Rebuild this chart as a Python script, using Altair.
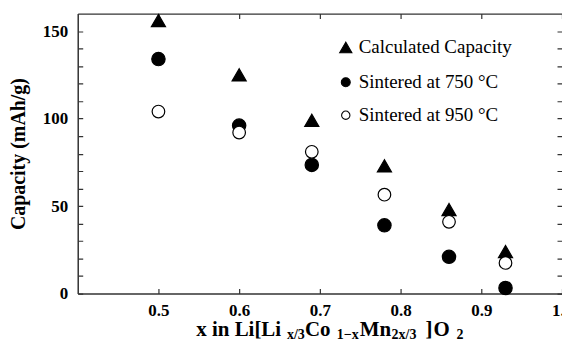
import altair as alt
import pandas as pd

# Composition x of Li[Li_x/3 Co_1-x Mn_2x/3]O2 and discharge capacities (mAh/g)
x_values = [0.50, 0.60, 0.69, 0.78, 0.86, 0.93]
calculated = [156, 125, 99, 73, 48, 24]
sintered_750 = [134, 96, 73.5, 39, 21, 3.2]
sintered_950 = [104, 92, 81, 56.5, 41, 17.5]

series_names = ["Calculated Capacity", "Sintered at 750 °C", "Sintered at 950 °C"]
x_ticks = [0.5, 0.6, 0.7, 0.8, 0.9, 1.0]
y_ticks = list(range(0, 161, 10))
x_domain = [0.4, 1.0]
y_domain = [0, 160]

rows = []
for name, vals in zip(series_names, [calculated, sintered_750, sintered_950]):
    for xv, v in zip(x_values, vals):
        rows.append({"x": xv, "capacity": v, "series": name})
df = pd.DataFrame(rows)

FONT = "Liberation Serif"
FRAME = "#333333"
PAD_LEFT, PAD_TOP = 78, 13
PLOT_W, PLOT_H = 486, 281
TICK = 5

xscale = alt.Scale(domain=x_domain, nice=False, zero=False)
yscale = alt.Scale(domain=y_domain, nice=False)
shape_scale = alt.Scale(domain=series_names,
                        range=["triangle-up", "circle", "circle"])
fill_scale = alt.Scale(domain=series_names, range=["black", "black", "white"])

# Axis lines form the bottom and left of the frame. Inward tick marks at both
# ends of the plot come from dashed grid lines (a short dash at each end);
# the grid line at the top of the y range is left solid as the top edge.
common_axis = dict(domain=True, domainColor=FRAME, domainWidth=1.5,
                   ticks=False, tickSize=0, grid=True, gridColor=FRAME,
                   gridWidth=1.2, gridOpacity=1)

x_axis = alt.Axis(orient="bottom", values=x_ticks, format=".1f",
                  gridDash=[TICK, PLOT_H - 2 * TICK],
                  labelPadding=9, labelFlush=False, labelFont=FONT,
                  labelFontWeight="bold", labelFontSize=17,
                  labelColor="black", title=None, **common_axis)
y_axis = alt.Axis(orient="left", values=y_ticks,
                  gridDash={"condition": {"test": f"datum.value === {y_domain[1]}",
                                          "value": []},
                            "value": [TICK, PLOT_W - 2 * TICK]},
                  labelExpr="datum.value % 50 === 0 ? datum.label : ''",
                  labelPadding=10, labelFont=FONT, labelFontWeight="bold",
                  labelFontSize=17, labelColor="black",
                  title="Capacity (mAh/g)", titleFont=FONT,
                  titleFontSize=20, titleFontWeight="bold",
                  titleColor="black", titlePadding=14, **common_axis)

points = alt.Chart(df).mark_point(
    filled=True, stroke="black", strokeWidth=1.2, opacity=1
).encode(
    x=alt.X("x:Q", scale=xscale, axis=x_axis),
    y=alt.Y("capacity:Q", scale=yscale, axis=y_axis),
    shape=alt.Shape("series:N", scale=shape_scale, legend=None),
    fill=alt.Fill("series:N", scale=fill_scale, legend=None),
    size=alt.Size("series:N", legend=None,
                  scale=alt.Scale(domain=series_names, range=[200, 160, 110])),
)

# key: symbol and label for each series
KEY_X, KEY_LABEL_X = 269, 282
key_row_y = [34, 69, 102]
key_symbol_size = [150, 80, 70]
key_layers = []
for name, ky, ks in zip(series_names, key_row_y, key_symbol_size):
    one = pd.DataFrame({"series": [name]})
    key_layers.append(
        alt.Chart(one).mark_point(
            filled=True, stroke="black", strokeWidth=1.1, opacity=1, size=ks
        ).encode(
            x=alt.value(KEY_X), y=alt.value(ky),
            shape=alt.Shape("series:N", scale=shape_scale, legend=None),
            fill=alt.Fill("series:N", scale=fill_scale, legend=None),
        )
    )
    key_layers.append(
        alt.Chart(one).mark_text(
            align="left", baseline="middle", font=FONT, fontSize=19,
            color="black",
        ).encode(x=alt.value(KEY_LABEL_X), y=alt.value(ky), text="series:N")
    )


def title_piece(text, left, sub):
    """One run of the x-axis title; subscripts are smaller and lowered."""
    return alt.Chart(pd.DataFrame({"t": [text]})).mark_text(
        align="left", baseline="alphabetic", font=FONT, fontWeight="bold",
        fontSize=14 if sub else 21, color="black",
    ).encode(
        x=alt.value(left - PAD_LEFT),
        y=alt.value((339.5 if sub else 336.5) - PAD_TOP),
        text="t:N",
    )


title_runs = [
    ("x in Li[Li", 197, False),
    ("x/3", 288, True),
    ("Co", 306, False),
    ("1\u2212x", 338, True),
    ("Mn", 361, False),
    ("2x/3", 393, True),
    ("]", 427, False),
    ("O", 435, False),
    ("2", 458, True),
]
titles = [title_piece(*run) for run in title_runs]

chart = alt.layer(points, *key_layers, *titles).properties(
    width=PLOT_W, height=PLOT_H,
    autosize=alt.AutoSizeParams(type="none"),
    padding={"left": PAD_LEFT, "top": PAD_TOP, "right": 0, "bottom": 55},
    background="white",
).configure_view(stroke=None)

chart.save("out.html", embed_options={"renderer": "svg", "actions": False})
